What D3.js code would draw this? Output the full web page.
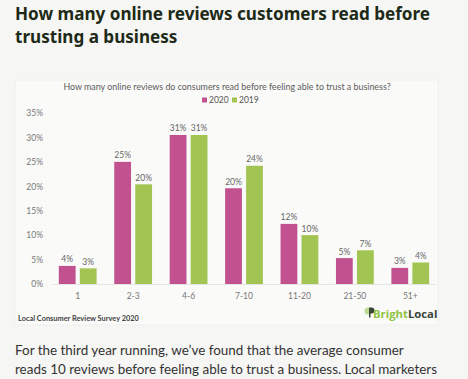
<!DOCTYPE html>
<html><head><meta charset="utf-8">
<script src="https://cdn.jsdelivr.net/npm/d3@7"></script>
<style>
html,body{margin:0;padding:0;background:#f6f6f4;}
svg{display:block;}
</style></head>
<body>
<svg id="c" width="468" height="379"></svg>
<script>
const categories = ["1","2-3","4-6","7-10","11-20","21-50","51+"];
const series2020 = [3.7, 25.0, 30.5, 19.6, 12.3, 5.3, 3.3];
const series2019 = [3.2, 20.4, 30.5, 24.2, 10.0, 6.9, 4.4];
const labels2020 = ["4%","25%","31%","20%","12%","5%","3%"];
const labels2019 = ["3%","20%","31%","24%","10%","7%","4%"];
const yTicks = [0,5,10,15,20,25,30,35];
const seriesNames = ["2020","2019"];
const colors = ["#c2528f","#a2c452"];

const svg = d3.select("#c");
// page title
const title = svg.append("text").attr("x",15).attr("fill","#1d2a17")
  .style("font-family","'Noto Sans', sans-serif").style("font-weight","700").style("font-size","17.1px");
title.append("tspan").attr("x",15).attr("y",20).text("How many online reviews customers read before");
title.append("tspan").attr("x",15).attr("y",43).text("trusting a business");

// card
svg.append("rect").attr("x",15).attr("y",80).attr("width",423).attr("height",245)
  .attr("fill","#fafaf9").attr("stroke","#efefed").attr("stroke-width",1);

const font = "Lato, 'Open Sans', sans-serif";
svg.append("text").attr("x",227).attr("y",90).attr("text-anchor","middle")
  .attr("fill","#5a5a5a").style("font-family",font).style("font-size","8.9px")
  .text("How many online reviews do consumers read before feeling able to trust a business?");

// legend
const leg = svg.append("g");
const legX = [202, 232];
seriesNames.forEach((n,i)=>{
  leg.append("rect").attr("x",legX[i]).attr("y",97.5).attr("width",5).attr("height",5).attr("fill",colors[i]);
  leg.append("text").attr("x",legX[i]+7).attr("y",103).attr("fill","#555")
    .style("font-family",font).style("font-size","8.5px").text(n);
});

const x = d3.scaleBand().domain(categories).range([50,438]).paddingInner(0).paddingOuter(0);
const x1 = d3.scaleBand().domain(seriesNames).range([0,x.bandwidth()]).paddingInner(0.2).paddingOuter(0.42);
const y = d3.scaleLinear().domain([0,35]).range([284,113]);

// y axis
const yAxis = d3.axisLeft(y).tickValues(yTicks).tickFormat(d=>d+"%").tickSize(0).tickPadding(0);
const ya = svg.append("g").attr("transform","translate(43,0)").call(yAxis);
ya.select(".domain").remove();
ya.selectAll("text").attr("fill","#777").style("font-family",font).style("font-size","8.5px");

// baseline
svg.append("line").attr("x1",53).attr("x2",436).attr("y1",y(0)+0.5).attr("y2",y(0)+0.5)
  .attr("stroke","#e6e6e4").attr("stroke-width",1);

// x axis
const xAxis = d3.axisBottom(x).tickSize(0).tickPadding(0);
const xa = svg.append("g").attr("transform","translate(0,293)").call(xAxis);
xa.select(".domain").remove();
xa.selectAll("text").attr("fill","#777").style("font-family",font).style("font-size","8.5px");

// bars
const data = [series2020, series2019];
const lab = [labels2020, labels2019];
const g = svg.append("g");
categories.forEach((c,ci)=>{
  seriesNames.forEach((s,si)=>{
    const v = data[si][ci];
    const bx = x(c)+x1(s);
    g.append("rect").attr("x",bx).attr("y",y(v)).attr("width",x1.bandwidth()).attr("height",y(0)-y(v)).attr("fill",colors[si]);
    g.append("text").attr("x",bx+x1.bandwidth()/2).attr("y",y(v)-3.5).attr("text-anchor","middle")
      .attr("fill","#666").style("font-family",font).style("font-size","8.5px").text(lab[si][ci]);
  });
});

// footer
svg.append("text").attr("x",18).attr("y",320.5).attr("fill","#444")
  .style("font-family",font).style("font-weight","700").style("font-size","7.4px")
  .text("Local Consumer Review Survey 2020");

// logo
const lg = svg.append("g");
lg.append("circle").attr("cx",368).attr("cy",311).attr("r",3.6).attr("fill","#8fc23f").attr("opacity",0.55);
lg.append("path").attr("d","M369,307.5 h2.5 a3,3 0 0,1 0,6 h-1 v4 h-1.5z").attr("fill","#3b463a");
const lt = lg.append("text").attr("x",373).attr("y",317.5).style("font-family","'Open Sans', sans-serif")
  .style("font-weight","700").style("font-size","11.3px");
lt.append("tspan").attr("fill","#8fc23f").text("Bright");
lt.append("tspan").attr("fill","#3b463a").text("Local");

// paragraph
const p = svg.append("text").attr("fill","#333").style("font-family",font).style("font-size","13.45px");
p.append("tspan").attr("x",15).attr("y",355).text("For the third year running, we\u2019ve found that the average consumer");
p.append("tspan").attr("x",15).attr("y",374).text("reads 10 reviews before feeling able to trust a business. Local marketers");
</script>
</body></html>
